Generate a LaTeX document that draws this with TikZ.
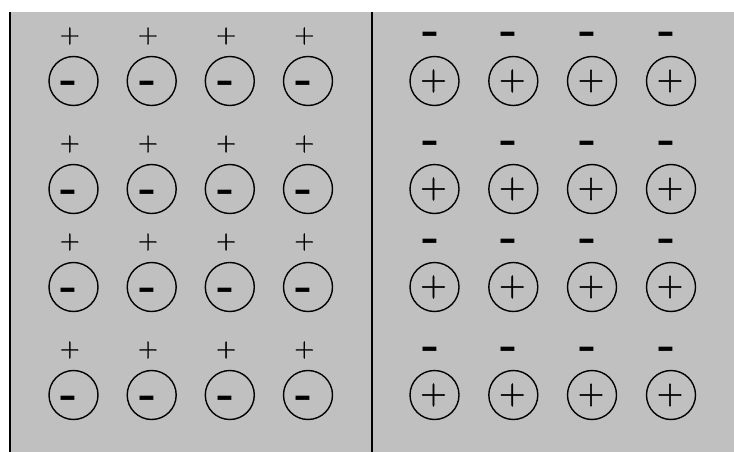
\documentclass[tikz,border=0pt]{standalone}
\usepackage{fontspec}
\newfontfamily\signfont[FakeBold=1.6]{Latin Modern Roman}
\definecolor{bggray}{RGB}{192,192,192}
\tikzset{
  ion/.style={circle,draw=black,line width=1.4pt,minimum size=49pt,inner sep=0pt},
  pluslbl/.style={inner sep=0pt,font=\signfont\fontsize{27}{27}\selectfont},
  plusin/.style={inner sep=0pt,font=\signfont\fontsize{36}{36}\selectfont},
  minuslbl/.style={inner sep=0pt,anchor=base,font=\fontsize{46}{46}\selectfont\bfseries},
  wall/.style={line width=1.5pt,draw=black}
}
\begin{document}
\begin{tikzpicture}[x=1pt,y=-1pt]
\useasboundingbox (0,0) rectangle (734,452);
\fill[bggray] (10,12) rectangle (734,452);
\coordinate (wt) at (10,12); \coordinate (wb) at (10,452);
\coordinate (mt) at (372,12); \coordinate (mb) at (372,452);
\draw[wall] (wt) -- (wb);
\draw[wall] (mt) -- (mb);
\foreach \r/\y in {1/81,2/189,3/287,4/395}{
  \foreach \c/\x in {1/73.5,2/151.7,3/229.8,4/308}{
    \node[ion] (L\r\c) at (\x,\y) {};
    \node[pluslbl] (LP\r\c) at (\x-3.7,\y-45) {+};
    \node[minuslbl] (LM\r\c) at (\x-4,\y+13) {-};
  }
  \foreach \c/\x in {1/434.5,2/513.3,3/592,4/671}{
    \node[ion] (R\r\c) at (\x,\y) {};
    \node[plusin] (RP\r\c) at (\x-1,\y) {+};
    \node[minuslbl] (RM\r\c) at (\x-3.7,\y-36) {-};
  }
}
\end{tikzpicture}
\end{document}
